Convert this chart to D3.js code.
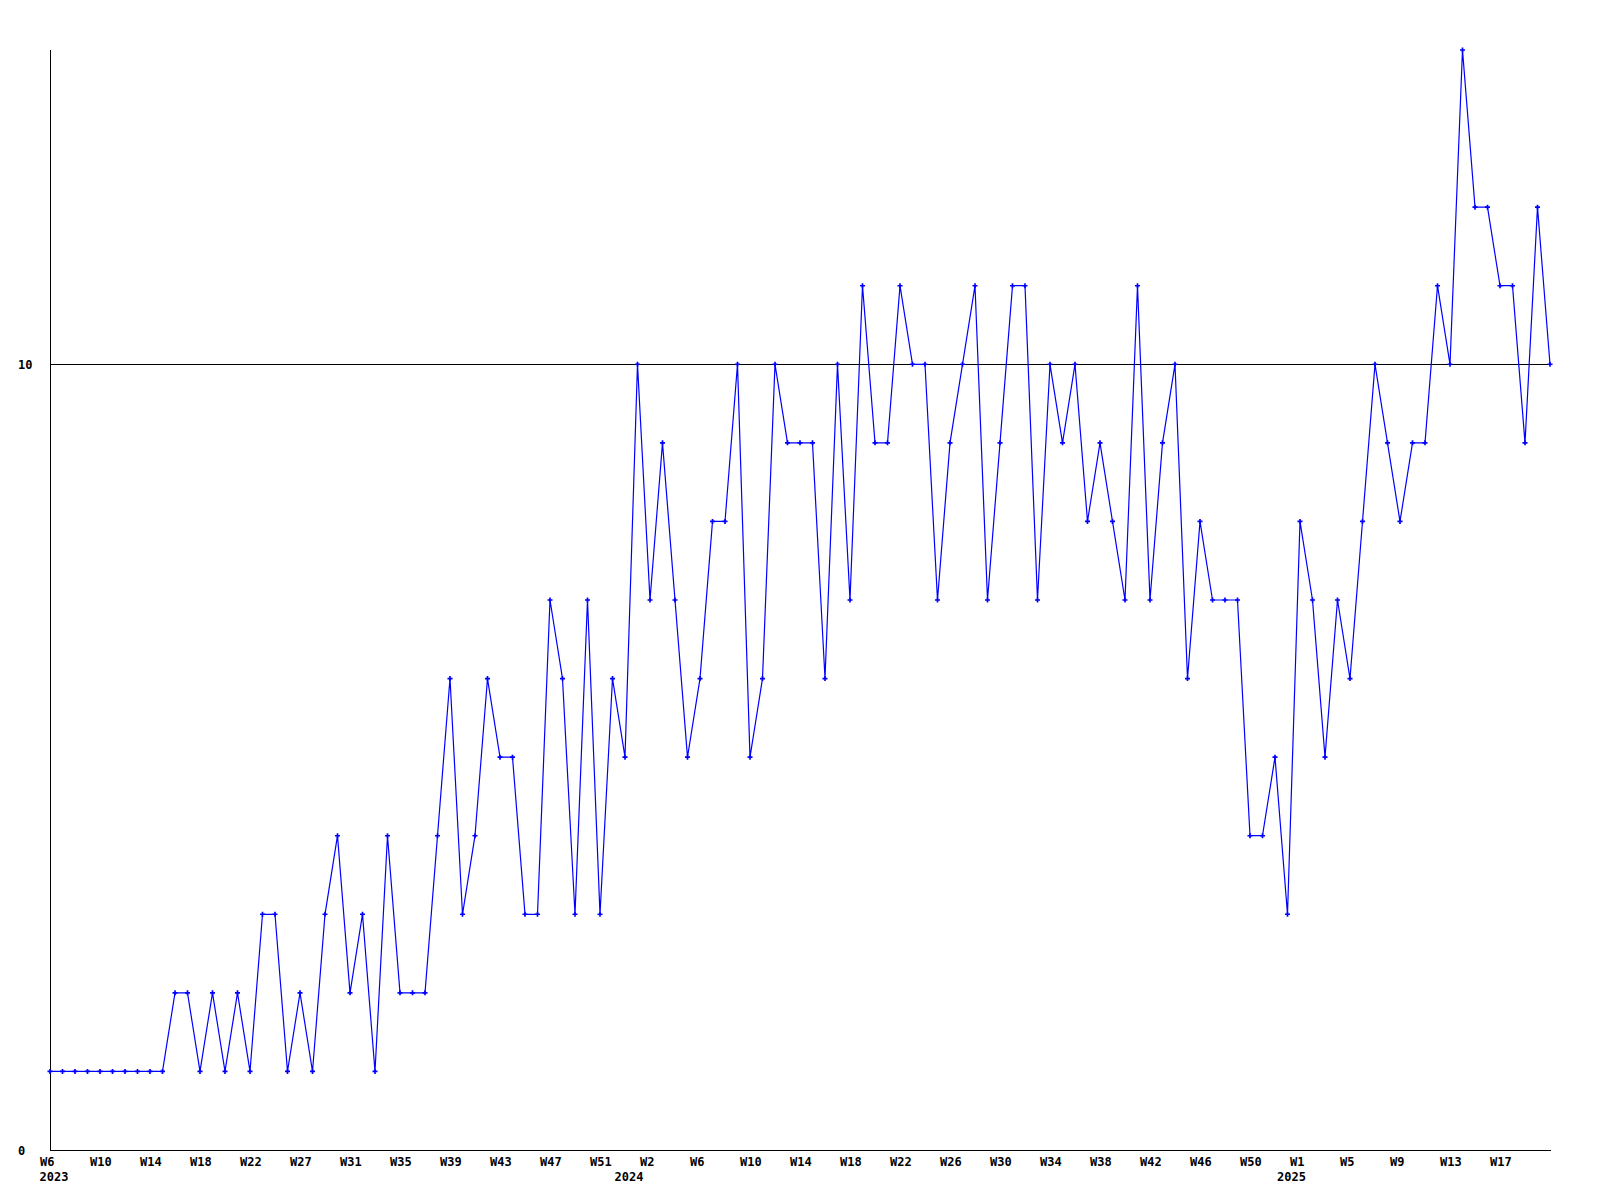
<!DOCTYPE html>
<html>
<head>
<meta charset="utf-8">
<script src="https://cdn.jsdelivr.net/npm/d3@7"></script>
<style>
  html, body { margin: 0; padding: 0; background: #ffffff; }
  svg { display: block; }
  text { font-family: "DejaVu Sans Mono", "Liberation Mono", monospace; font-weight: bold; font-size: 12px; fill: #000; }
</style>
</head>
<body>
<svg id="chart" width="1600" height="1200"></svg>
<script>
// ---- data ----
const values = [
  1,1,1,1,1,1,1,1,1,1,
  2,2,1,2,1,2,1,3,3,1,
  2,1,3,4,2,3,1,4,2,2,
  2,4,6,3,4,6,5,5,3,3,
  7,6,3,7,3,6,5,10,7,9,
  7,5,6,8,8,10,5,6,10,9,
  9,9,6,10,7,11,9,9,11,10,
  10,7,9,10,11,7,9,11,11,7,
  10,9,10,8,9,8,7,11,7,9,
  10,6,8,7,7,7,4,4,5,3,
  8,7,5,7,6,8,10,9,8,9,
  9,11,10,14,12,12,11,11,9,12,
  10
];
const weekTickLabels = [
  "W6","W10","W14","W18","W22","W27","W31","W35","W39","W43","W47","W51",
  "W2","W6","W10","W14","W18","W22","W26","W30","W34","W38","W42","W46","W50",
  "W1","W5","W9","W13","W17"
];
const weekTickStep = 4;
const yearLabels = ["2023", "2024", "2025"];
const yearStartIndex = [0, 46, 99];
const yTickValues = [0, 10];
const yMax = 14;
const gridValue = 10;

(function () {
  // ---- layout ----
  const mLeft = 50, mRight = 1550, mTop = 50, mBottom = 1150;
  const svg = d3.select("#chart");
  svg.append("rect").attr("width", 1600).attr("height", 1200).attr("fill", "#fff");

  const x = d3.scaleLinear().domain([0, values.length - 1]).range([mLeft, mRight]);
  const y = d3.scaleLinear().domain([0, yMax]).range([mBottom, mTop]);

  // grid line at 10
  const gy10 = Math.round(y(gridValue)) + 0.5;
  svg.append("line")
    .attr("x1", mLeft).attr("x2", mRight)
    .attr("y1", gy10).attr("y2", gy10)
    .attr("stroke", "#000").attr("stroke-width", 1);

  // x axis
  const tickIdx = weekTickLabels.map((d, i) => i * weekTickStep);
  const xAxis = d3.axisBottom(x)
    .tickValues(tickIdx)
    .tickFormat((d, i) => weekTickLabels[i])
    .tickSize(0).tickSizeOuter(0).tickPadding(7);
  const gx = svg.append("g").attr("transform", `translate(0,${mBottom})`).call(xAxis);
  gx.select(".domain").attr("stroke", "#000").attr("d", `M${mLeft},0.5H${mRight + 1}`);
  gx.selectAll(".tick text")
    .attr("text-anchor", "start").attr("dx", -10.5)
    .attr("font-family", null).attr("font-size", null).attr("fill", "#000");

  // year labels
  svg.append("g").selectAll("text").data(yearLabels).join("text")
    .attr("x", (d, i) => x(yearStartIndex[i]) - 10.5)
    .attr("y", mBottom + 31)
    .attr("text-anchor", "start")
    .text(d => d);

  // y axis
  const yAxis = d3.axisLeft(y).tickValues(yTickValues).tickFormat(d3.format("d"))
    .tickSize(0).tickSizeOuter(0).tickPadding(0);
  const gy = svg.append("g").attr("transform", `translate(${mLeft},0)`).call(yAxis);
  gy.select(".domain").attr("stroke", "#000").attr("d", `M0.5,${mTop}V${mBottom}`);
  gy.selectAll(".tick text")
    .attr("text-anchor", "start").attr("x", 18 - mLeft).attr("dy", "0.35em")
    .attr("font-family", null).attr("font-size", null).attr("fill", "#000");

  // line
  const line = d3.line().x((d, i) => x(i)).y(d => y(d));
  svg.append("path").datum(values)
    .attr("d", line)
    .attr("fill", "none").attr("stroke", "#0000ff").attr("stroke-width", 1.2);

  // markers
  const sym = d3.symbol().type(d3.symbolCross).size(14);
  svg.append("g").selectAll("path").data(values).join("path")
    .attr("transform", (d, i) => `translate(${x(i)},${y(d)})`)
    .attr("d", sym)
    .attr("fill", "#0000ff");
})();
</script>
</body>
</html>
